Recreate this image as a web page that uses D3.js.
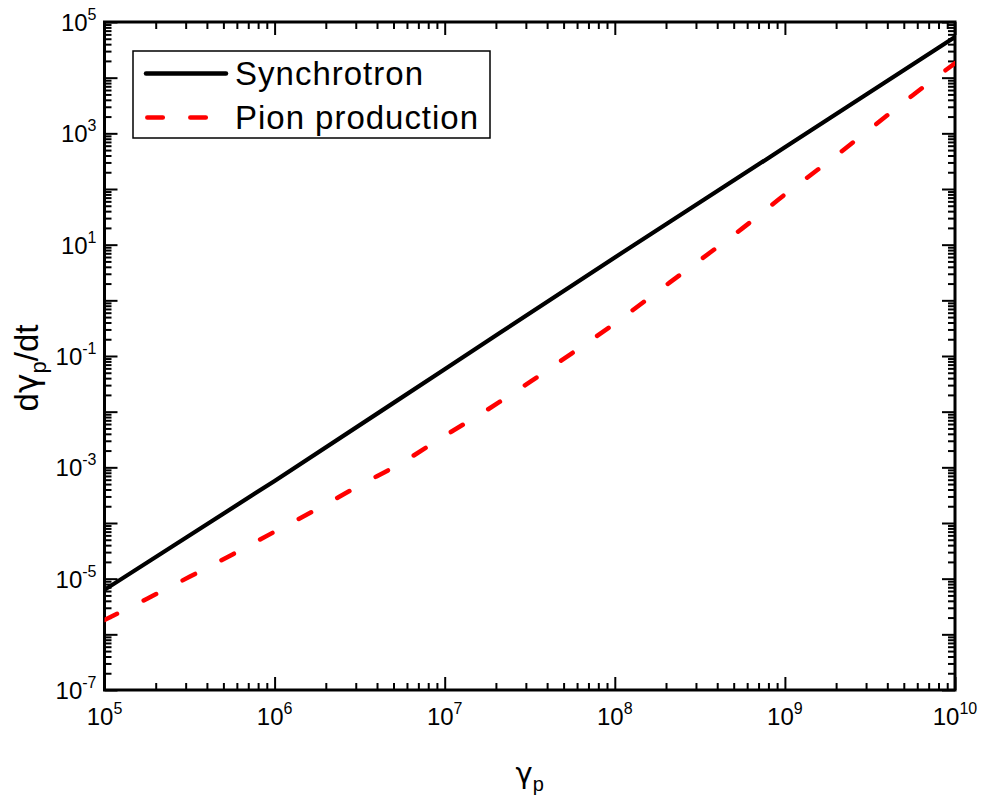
<!DOCTYPE html>
<html>
<head>
<meta charset="utf-8">
<script src="https://cdn.jsdelivr.net/npm/d3@7"></script>
<style>
  html, body { margin: 0; padding: 0; background: #fff; }
  svg { display: block; }
  text { font-family: "Liberation Sans", Arial, Helvetica, sans-serif; fill: #000; }
  .greek { font-family: "DejaVu Sans", "Liberation Sans", sans-serif; }
</style>
</head>
<body>
<svg id="chart" width="985" height="796"></svg>
<script>
// ---- data ----
const synchGamma = [1e5, 1e6, 1e7, 1e8, 1e9, 1e10];
const synchRate  = [6.3e-6, 5.7e-4, 5.8e-2, 5.9, 5.6e2, 5.4e4];

const pionGamma = [1e5, 1.78e5, 3.16e5, 5.62e5, 1e6, 1.78e6, 3.16e6, 5.62e6, 1e7, 1.78e7, 3.16e7,
                   5.62e7, 1e8, 1.78e8, 3.16e8, 5.62e8, 1e9, 1.78e9, 3.16e9, 5.62e9, 1e10];
const pionRate  = [1.81e-6, 4.37e-6, 1.08e-5, 2.70e-5, 6.98e-5, 1.78e-4, 4.74e-4, 1.22e-3, 3.69e-3,
                   1.08e-2, 3.40e-2, 0.113, 0.386, 1.43, 5.27, 19.6, 79.6, 302, 1190, 4790, 1.82e4];

const seriesNames = ["Synchrotron", "Pion production"];
const xLabelExps = [5, 6, 7, 8, 9, 10];
const yLabelExps = [-7, -5, -3, -1, 1, 3, 5];
const yMajorExps = [-7, -6, -5, -4, -3, -2, -1, 0, 1, 2, 3, 4, 5];

// ---- layout ----
const svg = d3.select("#chart");
const L = 104.5, R = 955, T = 22, B = 690;
const x = d3.scaleLog().domain([1e5, 1e10]).range([L, R]);
const y = d3.scaleLog().domain([1e-7, 1e5]).range([B, T]);

const xMajor = xLabelExps.map(e => Math.pow(10, e));
const yMajor = yMajorExps.map(e => Math.pow(10, e));
const minorOf = (majors) => {
  const out = [];
  for (let i = 0; i < majors.length - 1; i++)
    for (let k = 2; k <= 9; k++) out.push(k * majors[i]);
  return out;
};
const xMinor = minorOf(xMajor);
const yMinor = minorOf(yMajor);

const MAJ = 13, MIN = 7;
function drawAxis(axisFn, scale, vals, size, transform) {
  const g = svg.append("g").attr("transform", transform)
    .call(axisFn(scale).tickValues(vals).tickSize(size).tickFormat(""));
  g.select(".domain").remove();
  g.selectAll(".tick line").attr("stroke", "#000").attr("stroke-width", 2);
}
drawAxis(d3.axisTop, x, xMajor, MAJ, `translate(0,${B})`);
drawAxis(d3.axisTop, x, xMinor, MIN, `translate(0,${B})`);
drawAxis(d3.axisBottom, x, xMajor, MAJ, `translate(0,${T})`);
drawAxis(d3.axisBottom, x, xMinor, MIN, `translate(0,${T})`);
drawAxis(d3.axisRight, y, yMajor, MAJ, `translate(${L},0)`);
drawAxis(d3.axisRight, y, yMinor, MIN, `translate(${L},0)`);
drawAxis(d3.axisLeft, y, yMajor, MAJ, `translate(${R},0)`);
drawAxis(d3.axisLeft, y, yMinor, MIN, `translate(${R},0)`);

// frame
svg.append("rect").attr("x", L).attr("y", T).attr("width", R - L).attr("height", B - T)
  .attr("fill", "none").attr("stroke", "#000").attr("stroke-width", 3);

// tick labels
const xl = svg.append("g");
xLabelExps.forEach(e => {
  const t = xl.append("text").attr("x", x(Math.pow(10, e))).attr("y", B + 35)
    .attr("text-anchor", "middle").attr("font-size", 24);
  t.append("tspan").text("10");
  t.append("tspan").attr("dy", -11).attr("font-size", 16).text(e);
});
const yl = svg.append("g");
yLabelExps.forEach(e => {
  const t = yl.append("text").attr("x", L - 8).attr("y", y(Math.pow(10, e)) + 9)
    .attr("text-anchor", "end").attr("font-size", 24);
  t.append("tspan").text("10");
  t.append("tspan").attr("dy", -11).attr("font-size", 16).text(e < 0 ? "-" + (-e) : e);
});

// axis titles
const xt = svg.append("text").attr("x", (L + R) / 2).attr("y", 783)
  .attr("text-anchor", "middle").attr("font-size", 29);
xt.append("tspan").attr("class", "greek").text("γ");
xt.append("tspan").attr("dy", 8).attr("font-size", 20).text("p");

const yt = svg.append("text").attr("transform", `translate(38,368) rotate(-90)`)
  .attr("text-anchor", "middle").attr("font-size", 33);
yt.append("tspan").text("d");
yt.append("tspan").attr("class", "greek").text("γ");
yt.append("tspan").attr("dy", 8).attr("font-size", 22).text("p");
yt.append("tspan").attr("dy", -8).text("/dt");

// curves
const line = d3.line().x(d => x(d[0])).y(d => y(d[1])).curve(d3.curveMonotoneX);
svg.append("clipPath").attr("id", "clip").append("rect")
  .attr("x", L).attr("y", T).attr("width", R - L).attr("height", B - T);
const plot = svg.append("g").attr("clip-path", "url(#clip)");

plot.append("path").datum(pionGamma.map((g, i) => [g, pionRate[i]]))
  .attr("d", line).attr("fill", "none").attr("stroke", "#ff0000").attr("stroke-width", 4.5)
  .attr("stroke-linecap", "round").attr("stroke-dasharray", "14,29.8");

plot.append("path").datum(synchGamma.map((g, i) => [g, synchRate[i]]))
  .attr("d", line).attr("fill", "none").attr("stroke", "#000").attr("stroke-width", 4.2);

// legend
const lg = svg.append("g");
lg.append("rect").attr("x", 133).attr("y", 51).attr("width", 357).attr("height", 87)
  .attr("fill", "#fff").attr("stroke", "#000").attr("stroke-width", 1.5);
lg.append("line").attr("x1", 146).attr("x2", 226).attr("y1", 73.5).attr("y2", 73.5)
  .attr("stroke", "#000").attr("stroke-width", 4.5).attr("stroke-linecap", "round");
lg.append("line").attr("x1", 147.3).attr("x2", 226).attr("y1", 117.5).attr("y2", 117.5)
  .attr("stroke", "#ff0000").attr("stroke-width", 4.5).attr("stroke-linecap", "round")
  .attr("stroke-dasharray", "15.5,27.5");
lg.append("text").attr("x", 235).attr("y", 85).attr("font-size", 33)
  .attr("textLength", 188).attr("lengthAdjust", "spacing").text(seriesNames[0]);
lg.append("text").attr("x", 235).attr("y", 128.5).attr("font-size", 33)
  .attr("textLength", 243).attr("lengthAdjust", "spacing").text(seriesNames[1]);
</script>
</body>
</html>
